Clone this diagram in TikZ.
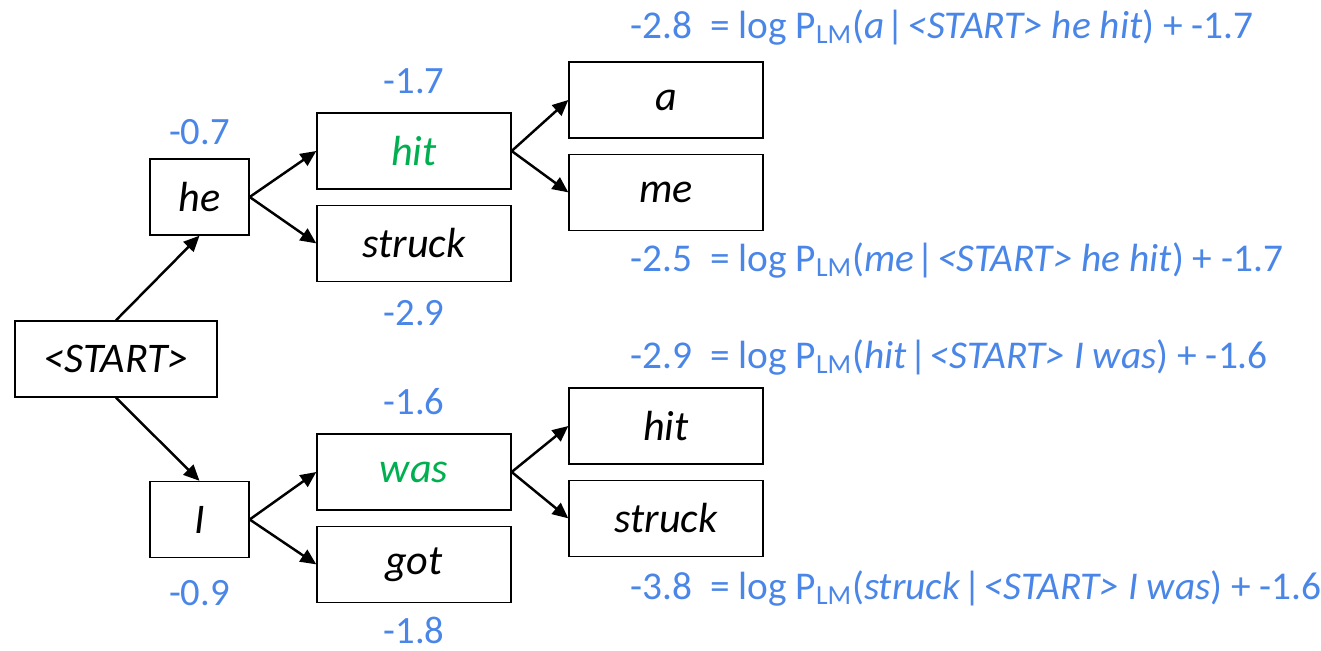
\documentclass[tikz,border=0pt]{standalone}
\usepackage{fontspec}
\setmainfont{Carlito}
\usepackage{xcolor}
\usetikzlibrary{arrows.meta, positioning}
\definecolor{scoreblue}{HTML}{4A86E8}
\definecolor{bestgreen}{HTML}{00B050}
\newcommand{\given}{\kern1.5pt|\kern1.5pt}

\begin{document}
\begin{tikzpicture}[
    x=0.02cm, y=-0.02cm,
    node distance=0.3cm and 1.16cm,
    word/.style={rectangle, draw=black, line width=0.8pt, minimum height=1.52cm,
        inner sep=2pt, font=\fontsize{24}{28}\selectfont\itshape},
    short/.style={word, minimum width=1.98cm},
    long/.style={word, minimum width=3.88cm},
    score/.style={font=\fontsize{22}{26}\selectfont, text=scoreblue, inner sep=0pt},
    eqn/.style={score, anchor=west, font=\fontsize{22.4}{26}\selectfont},
    arr/.style={-{Triangle[length=9pt, width=8pt]}, line width=1.4pt}
]
    \useasboundingbox (0,0) rectangle (1321,651);

    % first word
    \node[word, minimum width=4.04cm] (start) at (116,359) {<START>};
    \node[short] (he) at (199.5,197) {he};
    \node[short] (i) at (199.5,519.5) {I};

    % second word
    \node[long] (hit) at (414,151) {\textcolor{bestgreen}{hit}};
    \node[long, below=of hit] (struck) {struck};
    \node[long] (was) at (414,472) {\textcolor{bestgreen}{was}};
    \node[long, below=of was] (got) {got};

    % third word
    \node[long] (a) at (666,100) {a};
    \node[long, below=of a] (me) {me};
    \node[long] (hitb) at (666,426) {hit};
    \node[long, below=of hitb] (struckb) {struck};

    % arrows
    \draw[arr] (start.north) -- (he.south);
    \draw[arr] (start.south) -- (i.north);
    \foreach \a/\b in {he/hit, he/struck, i/was, i/got, hit/a, hit/me, was/hitb, was/struckb}
        \draw[arr] (\a.east) -- (\b.west);

    % scores
    \node[score, above=0.26cm of he] (she) {-0.7};
    \node[score, below=0.44cm of i] (si) {-0.9};
    \node[score, above=0.36cm of hit] (shit) {-1.7};
    \node[score, below=0.36cm of struck] (sstruck) {-2.9};
    \node[score, above=0.36cm of was] (swas) {-1.6};
    \node[score, below=0.27cm of got] (sgot) {-1.8};

    % language model terms
    \node[eqn] (ea) at (630,27) {-2.8\ \ = log P\textsubscript{LM}(\textit{a}\given\textit{<START> he hit}) + -1.7};
    \node[eqn] (eme) at (630,260) {-2.5\ \ = log P\textsubscript{LM}(\textit{me}\given\textit{<START> he hit}) + -1.7};
    \node[eqn] (ehit) at (630,357) {-2.9\ \ = log P\textsubscript{LM}(\textit{hit}\given\textit{<START> I was}) + -1.6};
    \node[eqn] (estruck) at (630,588) {-3.8\ \ = log P\textsubscript{LM}(\textit{struck}\given\textit{<START> I was}) + -1.6};
\end{tikzpicture}
\end{document}
